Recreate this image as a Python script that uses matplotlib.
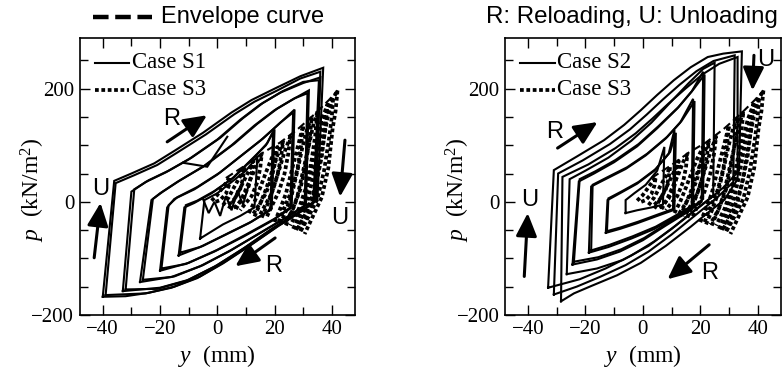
import numpy as np
import matplotlib.pyplot as plt
from matplotlib.lines import Line2D
from matplotlib.ticker import MultipleLocator

plt.rcParams['font.family'] = ['Liberation Serif', 'DejaVu Serif']
plt.rcParams['mathtext.fontset'] = 'custom'
plt.rcParams['mathtext.rm'] = 'Liberation Serif'
plt.rcParams['mathtext.it'] = 'Liberation Serif:italic'

# Case S1 loops (y mm, p kN/m2), left panel
s1_loops = [
    [(-40, -168), (-36, 37), (-30, 50), (-22, 68), (-15, 90), (-5, 122), (5, 158), (12, 180),
     (20, 200), (29, 222), (37, 237), (35, 5), (30, -15), (22, -40), (12, -75), (3, -105),
     (-6, -132), (-15, -150), (-24, -161), (-32, -167), (-40, -168)],
    [(-39, -165), (-35.5, 33), (-29, 47), (-21, 65), (-14, 87), (-4, 119), (6, 155), (13, 177),
     (21, 197), (29, 218), (36, 230), (34.5, 3), (29, -18), (21, -44), (11, -79), (2, -109),
     (-7, -135), (-16, -152), (-25, -162), (-39, -165)],
    [(-33, -158), (-30, 18), (-25, 35), (-18, 52), (-10, 75), (0, 110), (8, 145), (15, 172),
     (22, 193), (30, 210), (36, 220), (34, 0), (28, -20), (20, -45), (10, -80), (0, -112),
     (-10, -138), (-20, -152), (-33, -158)],
    [(-32, -155), (-29, 22), (-24, 38), (-17, 55), (-9, 78), (1, 113), (9, 148), (16, 175),
     (23, 196), (30, 212), (35.5, 215), (33.5, -3), (27, -23), (19, -48), (9, -83), (-1, -115),
     (-11, -140), (-21, -154), (-32, -155)],
    [(-27, -142), (-23, 3), (-20, 15), (-14, 35), (-5, 62), (5, 100), (13, 135), (20, 162),
     (26, 180), (32, 197), (31, -5), (25, -25), (15, -55), (5, -85), (-5, -112), (-15, -132),
     (-27, -142)],
    [(-26, -138), (-22.5, 5), (-19, 18), (-13, 38), (-4, 65), (6, 103), (14, 138), (21, 165),
     (27, 183), (31.5, 192), (30.5, -8), (24, -28), (14, -58), (4, -88), (-6, -114),
     (-16, -133), (-26, -138)],
    [(-20, -122), (-17.5, -10), (-15, 5), (-8, 22), (0, 48), (8, 80), (15, 108), (21, 135),
     (27, 163), (26, -8), (20, -30), (10, -58), (0, -85), (-10, -108), (-20, -122)],
    [(-19.5, -118), (-17, -6), (-14, 8), (-7, 26), (1, 52), (9, 84), (16, 112), (22, 140),
     (26.5, 158), (25.5, -12), (19, -34), (9, -62), (-1, -88), (-11, -110), (-19.5, -118)],
    [(-13.5, -95), (-11.5, -10), (-8, -2), (-2, 15), (5, 40), (12, 75), (17, 100), (20, 128),
     (19, -12), (12, -35), (4, -55), (-5, -78), (-13.5, -95)],
    [(-13, -90), (-11, -6), (-7, 2), (-1, 19), (6, 44), (13, 79), (17.5, 104), (19.5, 124),
     (18.5, -15), (11, -38), (3, -58), (-6, -80), (-13, -90)],
    [(-6, -65), (-4.5, 3), (0, 15), (5, 35), (10, 55), (14, 80), (13, -10), (8, -25), (2, -40),
     (-6, -65)],
    [(-5, 5), (-3, -20), (-1, 0), (1, -25), (3, 10), (5, -15), (7, 20), (9, -5), (11, 30)],
    [(-12, 69), (-3.5, 62), (3.5, 115)],
]

# Case S2 loops, right panel
s2_loops = [
    [(-33, -152), (-31, 56), (-23, 80), (-13.5, 109), (-6.5, 136), (-0.7, 162), (5, 189),
     (10.8, 215), (16.7, 238), (22.6, 256), (28, 262), (34.5, 266), (33.5, 55), (28, 25),
     (20, -8), (12, -40), (4, -70), (-4, -95), (-13, -118), (-22, -137), (-33, -152)],
    [(-31, -164), (-29.5, 50), (-21, 73), (-11.5, 102), (-4.5, 128), (1.3, 154), (7, 181),
     (12.8, 207), (18.7, 231), (24.6, 249), (32, 259), (31.5, 35), (26, 8), (18, -25),
     (10, -58), (2, -88), (-6, -112), (-15, -133), (-23, -150), (-31, -164)],
    [(-28.5, -176), (-28, 44), (-19, 66), (-9.5, 95), (-2.5, 121), (3.3, 147), (9, 174),
     (14.8, 200), (20.7, 225), (26.6, 244), (33, 256), (33, 40), (28.4, 3.5), (22, -22),
     (16.7, -44), (8, -78), (-0.7, -108), (-9, -130), (-18, -149), (-24, -162), (-28.5, -176)],
    [(-26.5, -128), (-25.5, 40), (-20, 55), (-12, 78), (-4, 108), (3, 140), (10, 178),
     (16, 210), (21, 235), (25, 246), (24.5, 10), (18, -15), (10, -48), (2, -78), (-7, -103),
     (-16, -118), (-26.5, -128)],
    [(-24.5, -111), (-22.3, 36), (-17, 50), (-10, 70), (-2, 98), (5, 130), (12, 165), (17, 195),
     (21, 230), (20.5, 0), (15, -20), (8, -42), (0, -68), (-8, -88), (-16, -102), (-24.5, -111)],
    [(-24, -106), (-22, 40), (-16.5, 54), (-9.5, 74), (-1.5, 102), (5.5, 134), (12.5, 168),
     (17.5, 198), (21.5, 225), (21, 5), (15.5, -16), (8.5, -38), (0.5, -64), (-7.5, -84),
     (-15.5, -98), (-24, -106)],
    [(-18.8, -90), (-18, 27), (-13, 40), (-6, 58), (1, 82), (8, 112), (13, 140), (17.5, 182),
     (17, -10), (11, -28), (4, -48), (-4, -65), (-12, -80), (-18.8, -90)],
    [(-18, -86), (-17.5, 30), (-12.5, 43), (-5.5, 61), (1.5, 85), (8.5, 115), (13.5, 143),
     (18, 178), (17.5, -6), (11.5, -24), (4.5, -44), (-3.5, -61), (-11.5, -76), (-18, -86)],
    [(-12.9, -55), (-12.3, 3), (-8, 15), (-2, 32), (4, 55), (9, 85), (11, 127), (10.5, -15),
     (5, -25), (-2, -38), (-8, -48), (-12.9, -55)],
    [(-12.5, -52), (-12, 6), (-7.5, 18), (-1.5, 35), (4.5, 58), (9.5, 88), (11.5, 122),
     (11, -12), (5.5, -22), (-1.5, -35), (-7.5, -45), (-12.5, -52)],
    [(-6, -20), (-6, 3), (-3, 15), (1, 30), (5, 55), (7.5, 97), (7, -5), (3, -10), (-2, -15),
     (-6, -20)],
]

# Case S3 loops, shown in both panels
s3_loops = [
    [(29, -52), (31, -30), (33, -2), (35, 45), (36.8, 100), (38.5, 148), (40, 178), (42, 197),
     (41.3, 160), (40.3, 130), (38.8, 60), (36.5, 8), (33, -30), (30.5, -57)],
    [(27.5, -50), (29.5, -28), (31.5, 0), (33.5, 45), (35.5, 100), (37.3, 145), (39, 170),
     (40.5, 185), (40, 150), (39, 110), (37.3, 55), (35, 5), (31.5, -30), (29, -53)],
    [(26.5, -48), (28.5, -25), (30.5, 5), (32.5, 50), (34.5, 100), (36.5, 145), (38.5, 172),
     (37.8, 135), (36.5, 80), (34.5, 30), (31.5, -15), (28, -48)],
    [(24, -42), (26, -18), (28, 10), (30, 55), (32, 100), (33.5, 135), (35, 160), (34.3, 120),
     (33, 75), (31, 25), (28.5, -12), (25.5, -42)],
    [(22, -40), (24, -16), (26, 12), (28, 55), (29.8, 98), (31.5, 130), (33, 150), (32.3, 112),
     (31, 70), (29, 22), (26.5, -12), (23.5, -40)],
    [(20, -36), (22, -12), (24, 15), (26, 55), (28, 95), (30, 135), (29.3, 100), (28, 58),
     (26, 20), (23.5, -10), (21.5, -36)],
    [(15.5, -28), (17.5, -5), (19.5, 22), (21.5, 55), (23.5, 88), (25.5, 115), (24.8, 85),
     (23.5, 50), (21.5, 18), (19, -8), (17, -30)],
    [(13, -26), (15, -3), (17, 22), (19, 52), (21, 82), (23, 106), (22.3, 80), (21, 47),
     (19, 15), (16.5, -8), (14.5, -27)],
    [(11, -20), (13, 0), (15, 25), (17, 52), (19, 77), (21, 97), (20.3, 72), (19, 42), (17, 15),
     (14.5, -6), (12.5, -22)],
    [(6.5, -13), (8.5, 5), (10.5, 28), (12.5, 50), (14, 70), (15.5, 84), (15, 60), (14, 35),
     (12, 10), (9.5, -5), (8, -15)],
    [(4, -12), (6, 4), (8, 24), (10, 44), (11.5, 60), (12.5, 72), (12, 50), (11, 28), (9, 6),
     (6.5, -8), (5, -13)],
    [(2, -6), (4, 8), (6, 27), (8, 45), (9.5, 62), (9, 42), (8, 22), (6, 5), (3.5, -8)],
    [(-2, 2), (0, 12), (2, 26), (4.5, 44), (4, 28), (3, 14), (1, 3), (-1, -1)],
]

# envelope of S3 peaks
env_y = [3, 10, 16, 22, 28, 34, 39, 42]
env_p = [42, 65, 87, 105, 128, 155, 180, 197]

# arrows: (label, tail, head, label position)
arrows_left = [
    ('R', (-17.5, 106), (-3.6, 153), (-15.8, 147)),
    ('U', (-43, -99), (-40.8, -2), (-40.8, 22)),
    ('U', (44.6, 109), (42.9, 9), (42.9, -28)),
    ('R', (20.2, -64), (6.3, -114), (19.6, -114)),
]
arrows_right = [
    ('R', (-29.7, 95), (-15.8, 141), (-30.8, 124)),
    ('U', (-41.3, -132), (-40.1, -20), (-39.5, 4)),
    ('U', (38.7, 259), (38.2, 197), (42.8, 250)),
    ('R', (23.1, -76), (8.6, -137), (23.1, -126)),
]

S3_DASH = (1.0, 0.7)

fig = plt.figure(figsize=(7.83, 3.78), dpi=100)
ax1 = fig.add_axes([0.102, 0.167, 0.351, 0.733])
ax2 = fig.add_axes([0.645, 0.167, 0.352, 0.733])


def draw_panel(ax, solid_loops, solid_name, arrows):
    for loop in solid_loops:
        xs, ps = zip(*loop)
        ax.plot(xs, ps, color='k', lw=1.5, solid_joinstyle='miter')
    for loop in s3_loops:
        xs, ps = zip(*loop)
        ax.plot(xs, ps, color='k', lw=2.7, dashes=S3_DASH)
    ax.plot(env_y, env_p, color='k', lw=1.5, dashes=(4, 2))

    for lab, tail, head, pos in arrows:
        ax.annotate('', xy=head, xytext=tail,
                    arrowprops=dict(arrowstyle='-|>,head_length=0.7,head_width=0.32',
                                    lw=2.2, color='k', mutation_scale=20, shrinkA=0, shrinkB=0))
        ax.text(pos[0], pos[1], lab, family='Liberation Sans', fontsize=17,
                ha='center', va='center')

    ax.set_xlim(-48, 48)
    ax.set_ylim(-200, 290)
    ax.set_xticks([-40, -20, 0, 20, 40])
    ax.set_yticks([-200, 0, 200])
    ax.xaxis.set_minor_locator(MultipleLocator(10))
    ax.yaxis.set_minor_locator(MultipleLocator(50))
    ax.tick_params(which='both', direction='in', top=True, right=True, labelsize=15, pad=4)
    ax.tick_params(which='major', length=7, width=1)
    ax.tick_params(which='minor', length=6, width=1)
    for sp in ax.spines.values():
        sp.set_linewidth(1.2)
    ax.set_xlabel('$y$  (mm)', fontsize=17)
    ax.set_ylabel('$p$  (kN/m$^2$)', fontsize=17)
    ax.xaxis.set_label_coords(0.5, -0.1)
    ax.yaxis.set_label_coords(-0.12, 0.45)

    # in-axes legend
    ax.plot([0.055, 0.18], [0.91, 0.91], transform=ax.transAxes, color='k', lw=1.5)
    ax.plot([0.055, 0.18], [0.812, 0.812], transform=ax.transAxes, color='k', lw=2.7,
            dashes=S3_DASH)
    ax.text(0.19, 0.91, 'Case ' + solid_name, transform=ax.transAxes, fontsize=16.5,
            va='center')
    ax.text(0.19, 0.812, 'Case S3', transform=ax.transAxes, fontsize=16.5, va='center')


draw_panel(ax1, s1_loops, 'S1', arrows_left)
draw_panel(ax2, s2_loops, 'S2', arrows_right)

# figure-level header
fig.add_artist(Line2D([93 / 783, 152 / 783], [1 - 17 / 378, 1 - 17 / 378], color='k',
                      lw=3.2, dashes=(3.5, 1.5)))
fig.text(161 / 783, 1 - 17 / 378, 'Envelope curve', family='Liberation Sans', fontsize=17,
         va='center', ha='left')
fig.text(778 / 783, 1 - 17 / 378, 'R: Reloading, U: Unloading', family='Liberation Sans',
         fontsize=17.4, va='center', ha='right')

fig.savefig('out.png', dpi=100)
